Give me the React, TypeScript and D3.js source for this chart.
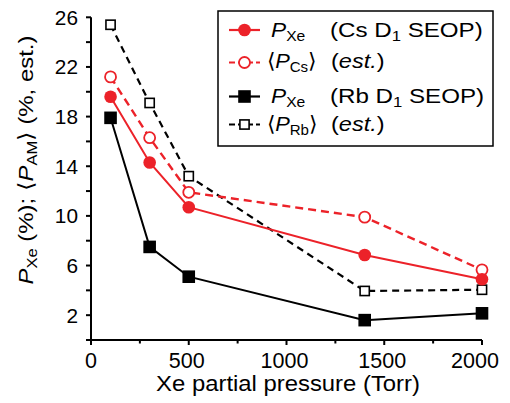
import React from "react";
import * as d3 from "d3";

const pressures = [100, 300, 500, 1400, 2000];
const pXeCs = [19.6, 14.3, 10.7, 6.85, 4.9];
const pCsEst = [21.2, 16.3, 11.9, 9.9, 5.65];
const pXeRb = [17.9, 7.5, 5.1, 1.6, 2.15];
const pRbEst = [25.4, 19.1, 13.2, 3.95, 4.05];

const xMajorTicks = [0, 500, 1000, 1500, 2000];
const xMinorTicks = [250, 750, 1250, 1750];
const yLabelTicks = [2, 6, 10, 14, 18, 22, 26];
const yAllTicks = d3.range(0, 27, 2);

const RED = "#ec2229";
const FONT = "'Liberation Sans', Arial, Helvetica, sans-serif";

type Series = {
  name: string;
  values: number[];
  color: string;
  dash: string | null;
  marker: "circle" | "square";
  filled: boolean;
};

const series: Series[] = [
  { name: "rbEst", values: pRbEst, color: "#000", dash: "7,5", marker: "square", filled: false },
  { name: "xeRb", values: pXeRb, color: "#000", dash: null, marker: "square", filled: true },
  { name: "csEst", values: pCsEst, color: RED, dash: "8,5", marker: "circle", filled: false },
  { name: "xeCs", values: pXeCs, color: RED, dash: null, marker: "circle", filled: true },
];

function Marker({ s, x, y }: { s: Series; x: number; y: number }) {
  if (s.marker === "circle") {
    return s.filled ? (
      <circle cx={x} cy={y} r={6.3} fill={s.color} />
    ) : (
      <circle cx={x} cy={y} r={5.5} fill="#fff" stroke={s.color} strokeWidth={1.8} />
    );
  }
  if (s.filled) {
    return <rect x={x - 6.3} y={y - 6.3} width={12.6} height={12.6} fill={s.color} />;
  }
  return (
    <rect x={x - 4.6} y={y - 4.6} width={9.2} height={9.2} fill="#fff" stroke={s.color} strokeWidth={1.6} />
  );
}

function ST({
  x,
  y,
  sx,
  rot,
  anchor,
  fs,
  children,
}: {
  x: number;
  y: number;
  sx: number;
  rot?: number;
  anchor?: string;
  fs: number;
  children: React.ReactNode;
}) {
  return (
    <g transform={`translate(${x},${y}) rotate(${rot || 0}) scale(${sx},1)`}>
      <text x={0} y={0} fontSize={fs} textAnchor={anchor || "start"}>
        {children}
      </text>
    </g>
  );
}

export default function App() {
  const W = 510;
  const H = 403;
  const x = d3.scaleLinear().domain([0, 2000]).range([91, 482]);
  const y = d3.scaleLinear().domain([0, 26]).range([340, 17.3]);
  const line = d3
    .line<number>()
    .x((_, i) => x(pressures[i]))
    .y((d) => y(d));

  const fs = 21;
  const sub = 14.5;

  const legendRows = [
    { s: series[3], cy: 30 },
    { s: series[2], cy: 62.5 },
    { s: series[1], cy: 96.5 },
    { s: series[0], cy: 124.5 },
  ];

  return (
    <svg
      width={W}
      height={H}
      style={{ position: "absolute", left: 0, top: 0, background: "#fff" }}
      fontFamily={FONT}
    >
      {/* axes */}
      <line x1={x(0)} x2={x(2000)} y1={y(0)} y2={y(0)} stroke="#000" strokeWidth={2} />
      <line x1={x(0)} x2={x(0)} y1={y(0) + 5} y2={y(26)} stroke="#000" strokeWidth={2} />
      {xMajorTicks.map((t) => (
        <g key={"xm" + t}>
          <line x1={x(t)} x2={x(t)} y1={y(0)} y2={y(0) + 5} stroke="#000" strokeWidth={2} />
          <text x={t === 2000 ? 475 : x(t) - (t > 0 ? 2 : 0)} y={368} textAnchor="middle" fontSize={21.5}>
            {t}
          </text>
        </g>
      ))}
      {xMinorTicks.map((t) => (
        <line key={"xn" + t} x1={x(t)} x2={x(t)} y1={y(0)} y2={y(0) + 3.5} stroke="#000" strokeWidth={2} />
      ))}
      {yAllTicks.map((t) => (
        <line key={"yt" + t} x1={x(0) - 5} x2={x(0)} y1={y(t)} y2={y(t)} stroke="#000" strokeWidth={2} />
      ))}
      {yLabelTicks.map((t) => (
        <text key={"yl" + t} x={78} y={y(t) + 7.5} textAnchor="end" fontSize={20.8}>
          {t}
        </text>
      ))}

      {/* axis titles */}
      <ST x={288} y={391} sx={1.11} anchor="middle" fs={21.5}>
        Xe partial pressure (Torr)
      </ST>
      <ST x={33} y={160} sx={1.14} rot={-90} anchor="middle" fs={fs}>
        <tspan fontStyle="italic">P</tspan>
        <tspan fontSize={sub} dy={4}>Xe</tspan>
        <tspan dy={-4}> (%); ⟨</tspan>
        <tspan fontStyle="italic">P</tspan>
        <tspan fontSize={sub} dy={4}>AM</tspan>
        <tspan dy={-4}>⟩ (%, est.)</tspan>
      </ST>

      {/* series */}
      {series.map((s) => (
        <path
          key={"l" + s.name}
          d={line(s.values) || ""}
          fill="none"
          stroke={s.color}
          strokeWidth={s.dash ? (s.color === RED ? 2.4 : 2.2) : 2}
          strokeDasharray={s.dash || undefined}
        />
      ))}
      {series.map((s) =>
        s.values.map((v, i) => <Marker key={s.name + i} s={s} x={x(pressures[i])} y={y(v)} />)
      )}

      {/* legend */}
      <rect x={218} y={11} width={275} height={135} fill="#fff" stroke="#000" strokeWidth={1.5} />
      {legendRows.map(({ s, cy }) => (
        <g key={"lg" + s.name}>
          <line
            x1={229}
            x2={260}
            y1={cy}
            y2={cy}
            stroke={s.color}
            strokeWidth={2.2}
            strokeDasharray={s.dash ? "6,3" : undefined}
          />
          <Marker s={s} x={244.5} y={cy} />
        </g>
      ))}
      <ST x={271} y={37} sx={1.08} fs={fs}>
        <tspan fontStyle="italic">P</tspan>
        <tspan fontSize={sub} dy={4}>Xe</tspan>
      </ST>
      <ST x={330} y={37} sx={1.15} fs={fs}>
        <tspan>(Cs D</tspan>
        <tspan fontSize={sub} dy={4}>1</tspan>
        <tspan dy={-4}> SEOP)</tspan>
      </ST>
      <ST x={267} y={68} sx={1.04} fs={fs}>
        <tspan>⟨</tspan>
        <tspan fontStyle="italic">P</tspan>
        <tspan fontSize={sub} dy={4}>Cs</tspan>
        <tspan dy={-4}>⟩</tspan>
      </ST>
      <ST x={331} y={68} sx={1.12} fs={fs}>
        <tspan>(</tspan>
        <tspan fontStyle="italic">est.</tspan>
        <tspan>)</tspan>
      </ST>
      <ST x={271} y={103} sx={1.08} fs={fs}>
        <tspan fontStyle="italic">P</tspan>
        <tspan fontSize={sub} dy={4}>Xe</tspan>
      </ST>
      <ST x={330} y={103} sx={1.15} fs={fs}>
        <tspan>(Rb D</tspan>
        <tspan fontSize={sub} dy={4}>1</tspan>
        <tspan dy={-4}> SEOP)</tspan>
      </ST>
      <ST x={267} y={131} sx={1.04} fs={fs}>
        <tspan>⟨</tspan>
        <tspan fontStyle="italic">P</tspan>
        <tspan fontSize={sub} dy={4}>Rb</tspan>
        <tspan dy={-4}>⟩</tspan>
      </ST>
      <ST x={331} y={131} sx={1.12} fs={fs}>
        <tspan>(</tspan>
        <tspan fontStyle="italic">est.</tspan>
        <tspan>)</tspan>
      </ST>
    </svg>
  );
}
